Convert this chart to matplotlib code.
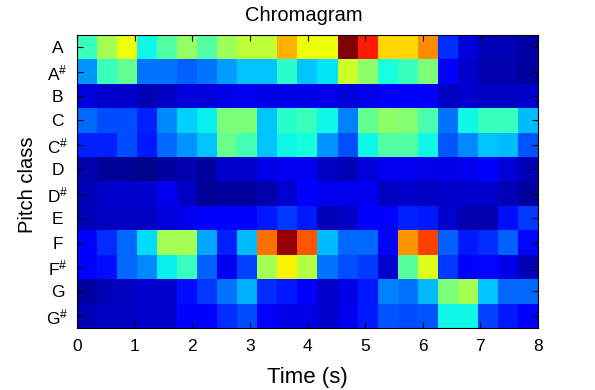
import matplotlib
matplotlib.use('Agg')
import matplotlib.pyplot as plt
import numpy as np

plt.rcParams['font.family'] = ['Liberation Sans', 'DejaVu Sans']
plt.rcParams['mathtext.fontset'] = 'custom'
plt.rcParams['mathtext.rm'] = 'Liberation Sans'
plt.rcParams['mathtext.default'] = 'rm'

pitch_classes = ['A', 'A#', 'B', 'C', 'C#', 'D', 'D#', 'E', 'F', 'F#', 'G', 'G#']
time_ticks = [0, 1, 2, 3, 4, 5, 6, 7, 8]

# chroma values per pitch class, 23 frames
row_a = [.42, .55, .64, .37, .45, .53, .45, .54, .58, .58, .72, .64, .64, 1.0, .88, .68, .68, .76, .17, .08, .05, .05, .03]
row_as = [.27, .42, .47, .24, .24, .22, .24, .28, .32, .32, .40, .32, .35, .60, .52, .38, .42, .50, .11, .07, .04, .04, .03]
row_b = [.08, .07, .07, .05, .06, .08, .08, .09, .10, .09, .09, .09, .09, .08, .09, .11, .12, .12, .06, .07, .06, .06, .07]
row_c = [.23, .20, .20, .16, .26, .33, .36, .50, .50, .32, .40, .42, .37, .25, .47, .52, .51, .44, .24, .37, .42, .42, .31]
row_cs = [.16, .16, .20, .15, .23, .27, .32, .48, .43, .32, .37, .38, .27, .20, .37, .45, .45, .37, .21, .26, .32, .31, .21]
row_d = [.04, .02, .02, .01, .03, .04, .03, .07, .07, .09, .10, .10, .06, .05, .08, .10, .10, .09, .09, .10, .11, .08, .05]
row_ds = [.05, .07, .07, .07, .10, .06, .02, .03, .03, .04, .07, .11, .10, .10, .10, .06, .07, .06, .07, .07, .07, .05, .03]
row_e = [.05, .06, .06, .06, .08, .10, .12, .12, .12, .15, .18, .15, .05, .06, .11, .11, .16, .15, .07, .04, .04, .14, .18]
row_f = [.11, .17, .23, .34, .55, .55, .29, .16, .31, .79, .98, .82, .31, .23, .23, .11, .75, .84, .22, .15, .17, .22, .13]
row_fs = [.11, .14, .23, .26, .36, .42, .22, .10, .19, .55, .65, .57, .24, .20, .18, .07, .46, .62, .18, .12, .13, .09, .05]
row_g = [.03, .05, .06, .07, .07, .14, .18, .24, .30, .17, .15, .11, .07, .09, .15, .25, .24, .31, .50, .55, .32, .23, .23]
row_gs = [.05, .06, .06, .07, .07, .11, .12, .17, .20, .11, .09, .09, .07, .10, .15, .21, .20, .21, .37, .37, .19, .15, .11]

chroma = np.array([row_a, row_as, row_b, row_c, row_cs, row_d, row_ds, row_e, row_f, row_fs, row_g, row_gs])

fig = plt.figure(figsize=(5.95, 3.90), dpi=100)
ax = fig.add_axes([77 / 595, 1 - 328 / 390, 461 / 595, 293 / 390])
ax.imshow(chroma, cmap='jet', vmin=0, vmax=1, aspect='auto', interpolation='nearest',
          extent=[0, 8, 11.5, -0.5])

ax.set_xticks(time_ticks)
ax.set_yticks(range(len(pitch_classes)))
ax.set_yticklabels([p.replace('#', r'$^{\#}$') for p in pitch_classes], ha='center')
ax.tick_params(direction='in', top=True, right=True, length=4, width=0.8, labelsize=12.5)
ax.tick_params(axis='x', pad=8)
ax.tick_params(axis='y', pad=14)
ax.set_xlabel('Time (s)', fontsize=16, labelpad=9)
ax.set_ylabel('Pitch class', fontsize=14.5, labelpad=6.5, y=0.488)
ax.set_title('Chromagram', fontsize=14.5, pad=10, x=0.4924)

fig.savefig('out.png', dpi=100)
